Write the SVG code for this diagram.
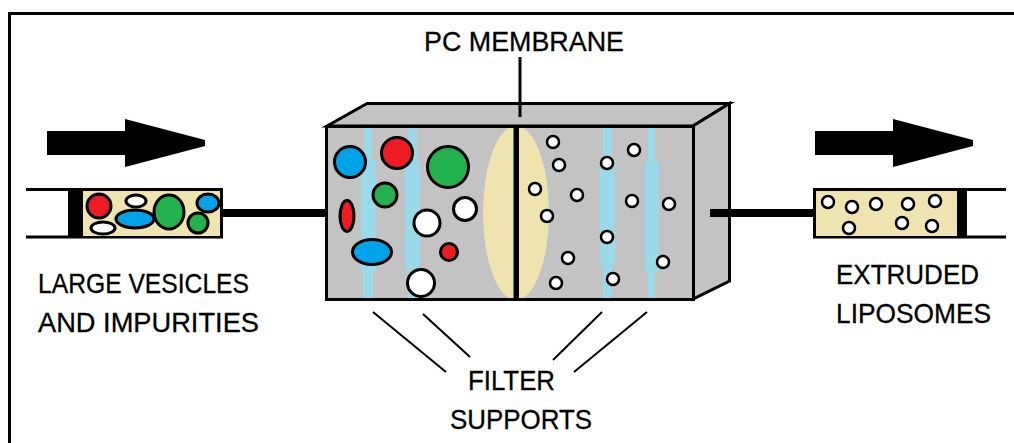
<svg xmlns="http://www.w3.org/2000/svg" width="1014" height="443" viewBox="0 0 1014 443">
  <style>
    .lbl { font-family: "Liberation Sans", Arial, sans-serif; font-size: 28px; fill: #000; stroke: #000; stroke-width: 0.3; }
    .ol { stroke: #000; stroke-width: 3; }
    .thin { stroke: #000; stroke-width: 2; fill: none; }
    .red { fill: #ED1C24; }
    .grn { fill: #22B14C; }
    .blu { fill: #00A2E8; }
    .wht { fill: #FFFFFF; }
    .beige { fill: #EFE4B0; }
    .gray { fill: #C3C3C3; }
    .sup { fill: #99D9EA; }
    .dot { fill: #FFFFFF; stroke: #000; stroke-width: 2.5; }
  </style>
  <defs>
    <clipPath id="frontClip">
      <rect x="328" y="128" width="364" height="170"/>
    </clipPath>
  </defs>

  <rect width="1014" height="443" fill="#FFFFFF"/>

  <!-- outer frame -->
  <path d="M9.5,443 V13.5 H1014" fill="none" stroke="#000" stroke-width="3"/>

  <!-- flow arrows -->
  <g id="arrow-in">
    <polygon points="47,131 125,131 125,119 205,140 205,146 125,167 125,155 47,155" fill="#000"/>
  </g>
  <g id="arrow-out">
    <polygon points="815,131 893,131 893,119 973,140 973,146 893,167 893,155 815,155" fill="#000"/>
  </g>

  <!-- inlet syringe with large vesicles -->
  <g id="inlet">
    <line x1="26" y1="189.5" x2="223" y2="189.5" class="ol"/>
    <line x1="26" y1="237" x2="223" y2="237" class="ol"/>
    <rect x="68" y="189" width="15" height="49" fill="#000"/>
    <rect x="83" y="191" width="138" height="45" class="beige"/>
    <line x1="221.5" y1="189" x2="221.5" y2="238" class="ol"/>
    <circle cx="99" cy="206" r="12" class="red ol"/>
    <ellipse cx="103" cy="228" rx="12" ry="6" class="wht ol"/>
    <ellipse cx="136" cy="201" rx="10" ry="6" class="wht ol"/>
    <ellipse cx="135" cy="219" rx="19" ry="9" class="blu ol"/>
    <ellipse cx="169" cy="212" rx="15" ry="17" class="grn ol"/>
    <ellipse cx="208" cy="203" rx="11" ry="9" class="blu ol"/>
    <circle cx="198" cy="223" r="10" class="grn ol"/>
  </g>

  <!-- extruder block -->
  <g id="extruder">
    <polygon points="327,126 367,103.5 729.5,103.5 693,126" class="gray ol"/>
    <polygon points="693,126 729.5,103.5 729.5,281 693,299" class="gray ol"/>
    <rect x="326.5" y="126.5" width="367" height="173" class="gray"/>
    <g clip-path="url(#frontClip)">
      <!-- filter supports -->
      <path class="sup" d="M364,128 H372 V160 H376 V272 H373 V299 H363 V272 H361 V160 H364 Z"/>
      <path class="sup" d="M408,128 H417 V162 H420 V270 H417 V299 H408 V270 H405 V162 H408 Z"/>
      <path class="sup" d="M603,128 H612 V160 H615 V265 H612 V299 H603 V265 H600 V160 H603 Z"/>
      <path class="sup" d="M648,128 H655 V162 H659 V272 H655 V299 H648 V272 H645 V162 H648 Z"/>
      <!-- membrane lens -->
      <ellipse cx="516" cy="213" rx="33" ry="87" class="beige"/>
    </g>
    <rect x="326.5" y="126.5" width="367" height="173" fill="none" class="ol"/>
    <rect x="513.5" y="127" width="5.5" height="172" fill="#000"/>

    <!-- unfiltered vesicles -->
    <circle cx="350" cy="162" r="15.5" class="blu ol"/>
    <circle cx="397" cy="153" r="15.5" class="red ol"/>
    <circle cx="448" cy="167" r="20.5" class="grn ol"/>
    <circle cx="385" cy="195" r="12" class="grn ol"/>
    <ellipse cx="347" cy="216" rx="7" ry="15.5" class="red ol"/>
    <circle cx="465" cy="209" r="11.5" class="wht ol"/>
    <circle cx="427" cy="223" r="13" class="wht ol"/>
    <ellipse cx="372" cy="252" rx="19.5" ry="12.5" class="blu ol"/>
    <circle cx="449" cy="252" r="8.5" class="red ol"/>
    <circle cx="421" cy="283" r="13.5" class="wht ol"/>

    <!-- extruded liposomes -->
    <circle cx="553" cy="142" r="6" class="dot"/>
    <circle cx="559" cy="165" r="6" class="dot"/>
    <circle cx="535" cy="189" r="6" class="dot"/>
    <circle cx="577" cy="195" r="6" class="dot"/>
    <circle cx="547" cy="216" r="6" class="dot"/>
    <circle cx="568" cy="258" r="6" class="dot"/>
    <circle cx="556" cy="283" r="6" class="dot"/>
    <circle cx="607" cy="163" r="6" class="dot"/>
    <circle cx="634" cy="150" r="6" class="dot"/>
    <circle cx="632" cy="201" r="6" class="dot"/>
    <circle cx="607" cy="237" r="6" class="dot"/>
    <circle cx="613" cy="279" r="6" class="dot"/>
    <circle cx="669" cy="204" r="6" class="dot"/>
    <circle cx="663" cy="262" r="6" class="dot"/>
  </g>

  <g id="connectors">
    <!-- rods into and out of the extruder -->
    <rect x="223" y="209" width="104" height="8" fill="#000"/>
    <rect x="710" y="209" width="103" height="8" fill="#000"/>
    <!-- membrane pointer -->
    <line x1="520" y1="57" x2="520" y2="117" stroke="#000" stroke-width="3"/>
    <!-- filter support pointers -->
    <line class="thin" x1="373" y1="312" x2="446" y2="372"/>
    <line class="thin" x1="423" y1="314" x2="470" y2="357"/>
    <line class="thin" x1="602" y1="312" x2="553" y2="360"/>
    <line class="thin" x1="647" y1="312" x2="574" y2="372"/>
  </g>

  <!-- outlet syringe with extruded liposomes -->
  <g id="outlet">
    <line x1="813" y1="189.5" x2="1006" y2="189.5" class="ol"/>
    <line x1="813" y1="237" x2="1006" y2="237" class="ol"/>
    <rect x="815" y="191" width="142" height="45" class="beige"/>
    <line x1="814.5" y1="189" x2="814.5" y2="238" class="ol"/>
    <rect x="957" y="189" width="10" height="49" fill="#000"/>
    <circle cx="828" cy="202" r="6" class="dot"/>
    <circle cx="852" cy="207" r="6" class="dot"/>
    <circle cx="876" cy="204" r="6" class="dot"/>
    <circle cx="908" cy="204" r="6" class="dot"/>
    <circle cx="935" cy="201" r="6" class="dot"/>
    <circle cx="849" cy="228" r="6" class="dot"/>
    <circle cx="902" cy="223" r="6" class="dot"/>
    <circle cx="932" cy="226" r="6" class="dot"/>
  </g>

  <!-- labels -->
  <g id="label-membrane">
    <text class="lbl" x="424" y="51" textLength="200" lengthAdjust="spacingAndGlyphs">PC MEMBRANE</text>
  </g>
  <g id="label-input">
    <text class="lbl" x="38" y="293" textLength="211" lengthAdjust="spacingAndGlyphs">LARGE VESICLES</text>
    <text class="lbl" x="38" y="332" textLength="221" lengthAdjust="spacingAndGlyphs">AND IMPURITIES</text>
  </g>
  <g id="label-output">
    <text class="lbl" x="836" y="284" textLength="143" lengthAdjust="spacingAndGlyphs">EXTRUDED</text>
    <text class="lbl" x="836" y="323" textLength="155" lengthAdjust="spacingAndGlyphs">LIPOSOMES</text>
  </g>
  <g id="label-supports">
    <text class="lbl" x="468" y="390" textLength="87" lengthAdjust="spacingAndGlyphs">FILTER</text>
    <text class="lbl" x="450" y="429" textLength="142" lengthAdjust="spacingAndGlyphs">SUPPORTS</text>
  </g>
</svg>
